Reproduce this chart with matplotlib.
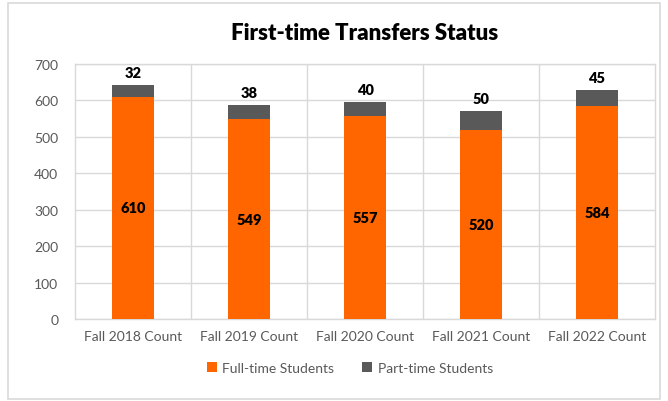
import matplotlib.pyplot as plt
import matplotlib.patches as mpatches
import numpy as np

categories = ["Fall 2018 Count", "Fall 2019 Count", "Fall 2020 Count", "Fall 2021 Count", "Fall 2022 Count"]
full_time = [610, 549, 557, 520, 584]
part_time = [32, 38, 40, 50, 45]
yticks = [0, 100, 200, 300, 400, 500, 600, 700]

plt.rcParams['font.family'] = ['Lato', 'DejaVu Sans']

fig = plt.figure(figsize=(6.68, 4.02), dpi=100)
# outer chart border
fig.patches.append(mpatches.Rectangle((8/668, 2/402), 652/668, 396/402, transform=fig.transFigure,
                                      fill=False, edgecolor='#d9d9d9', linewidth=1.2))
ax = fig.add_axes([75/668, 1-320/402, 580/668, 255/402])

x = np.arange(len(categories))
orange = '#FF6600'
gray = '#595959'
b1 = ax.bar(x, full_time, width=0.36, color=orange, label='Full-time Students', zorder=3)
b2 = ax.bar(x, part_time, width=0.36, bottom=full_time, color=gray, label='Part-time Students', zorder=3)

for xi, f, p in zip(x, full_time, part_time):
    ax.text(xi, f/2, str(f), ha='center', va='center', fontsize=10.5, fontweight='heavy', color='black', zorder=4)
    ax.annotate(str(p), (xi, f+p), xytext=(0, 9), textcoords='offset points', ha='center', va='center',
                fontsize=10.5, fontweight='heavy', color='black', zorder=4)

ax.set_xlim(-0.5, len(categories)-0.5)
ax.set_ylim(0, 700)
ax.set_yticks(yticks)
ax.set_xticks(x)
ax.set_xticklabels(categories)
ax.tick_params(axis='both', length=0, labelsize=10, colors='#595959')
ax.tick_params(axis='x', pad=8)
ax.tick_params(axis='y', pad=12)
ax.grid(axis='y', color='#d9d9d9', linewidth=1, zorder=0)
for b in np.arange(0.5, len(categories)-0.5, 1):
    ax.axvline(b, color='#d9d9d9', linewidth=1, zorder=0)
for s in ax.spines.values():
    s.set_color('#d9d9d9')
    s.set_linewidth(1)

fig.text(365/668, 1-33/402, "First-time Transfers Status", ha='center', va='center', fontsize=16, fontweight='heavy')

fig.legend(handles=[b1, b2], loc='center', bbox_to_anchor=(350/668, 1-369/402), ncol=2, frameon=False,
           fontsize=10, handlelength=0.7, handleheight=0.7, columnspacing=2, handletextpad=0.4,
           labelcolor='#595959')

fig.savefig('out.png', dpi=100)
